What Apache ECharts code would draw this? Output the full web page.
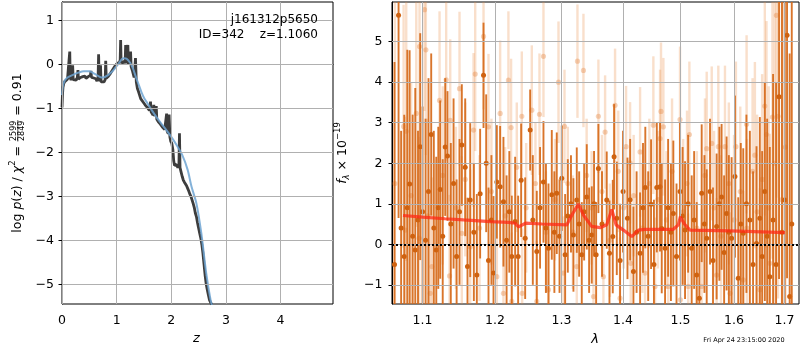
<!DOCTYPE html>
<html>
<head>
<meta charset="utf-8">
<script src="https://cdn.jsdelivr.net/npm/echarts@6/dist/echarts.min.js"></script>
<style>html,body{margin:0;padding:0;background:#fff}#c{width:800px;height:350px}</style>
</head>
<body>
<div id="c"></div>
<script>
// ---------- Left panel: p(z) ----------
const zGrid = [0.000,0.008,0.018,0.030,0.045,0.060,0.080,0.100,0.120,0.135,0.142,0.150,0.165,0.180,0.195,0.205,0.220,0.240,0.260,0.280,0.292,0.300,0.320,0.340,0.360,0.380,0.400,0.420,0.440,0.460,0.480,0.500,0.520,0.530,0.540,0.560,0.580,0.600,0.620,0.640,0.660,0.670,0.680,0.695,0.705,0.715,0.730,0.750,0.770,0.790,0.800,0.810,0.830,0.850,0.870,0.890,0.910,0.930,0.950,0.970,0.990,1.010,1.030,1.050,1.065,1.073,1.082,1.100,1.120,1.140,1.155,1.165,1.175,1.190,1.205,1.215,1.235,1.255,1.265,1.290,1.320,1.345,1.360,1.380,1.400,1.420,1.440,1.460,1.480,1.500,1.520,1.540,1.560,1.580,1.600,1.620,1.630,1.650,1.665,1.680,1.690,1.710,1.725,1.735,1.760,1.780,1.800,1.820,1.840,1.860,1.880,1.900,1.915,1.925,1.945,1.960,1.975,1.990,2.010,2.030,2.045,2.060,2.080,2.100,2.120,2.140,2.150,2.160,2.180,2.200,2.220,2.240,2.260,2.280,2.300,2.320,2.340,2.360,2.380,2.400,2.420,2.440,2.460,2.480,2.500,2.520,2.540,2.560,2.580,2.600,2.620,2.640,2.660,2.680,2.700,2.740];
const logPz = [-0.98,-0.70,-0.52,-0.45,-0.40,-0.38,-0.37,-0.34,-0.37,-0.33,0.29,-0.30,-0.36,-0.33,-0.02,-0.35,-0.38,-0.33,-0.36,-0.30,-0.13,-0.34,-0.36,-0.30,-0.32,-0.28,-0.30,-0.27,-0.32,-0.30,-0.28,-0.32,-0.25,-0.15,-0.30,-0.33,-0.31,-0.35,-0.33,-0.38,-0.32,0.23,-0.33,-0.38,-0.02,-0.40,-0.43,-0.38,-0.40,-0.35,0.08,-0.32,-0.30,-0.27,-0.24,-0.20,-0.16,-0.12,-0.08,-0.04,-0.02,0.02,0.05,0.04,0.10,0.55,0.05,0.06,0.03,0.08,0.02,0.44,0.02,0.05,0.44,0.00,0.03,0.29,-0.05,-0.15,-0.30,0.14,-0.40,-0.55,-0.62,-0.70,-0.78,-0.82,-0.85,-0.88,-0.92,-0.95,-0.98,-1.00,-1.05,-0.85,-1.08,-1.12,-1.15,-0.92,-1.18,-1.22,-0.95,-1.25,-1.30,-1.33,-1.36,-1.40,-1.43,-1.46,-1.48,-1.50,-1.12,-1.52,-1.58,-1.14,-1.65,-1.75,-1.80,-1.95,-2.20,-2.30,-2.33,-2.28,-2.35,-2.30,-1.57,-2.35,-2.45,-2.55,-2.63,-2.68,-2.72,-2.76,-2.82,-2.88,-2.95,-3.00,-3.08,-3.16,-3.25,-3.38,-3.46,-3.60,-3.72,-3.84,-3.95,-4.10,-4.30,-4.55,-4.80,-5.00,-5.13,-5.25,-5.36,-5.46];
const zFit = [0.000,0.020,0.050,0.100,0.200,0.300,0.400,0.500,0.600,0.700,0.750,0.850,0.950,1.050,1.120,1.180,1.250,1.300,1.350,1.400,1.450,1.500,1.550,1.600,1.700,1.800,1.900,2.000,2.100,2.200,2.300,2.370,2.460,2.550,2.640,2.720,2.760];
const logPzFit = [-0.70,-0.48,-0.37,-0.30,-0.24,-0.19,-0.16,-0.16,-0.22,-0.29,-0.30,-0.24,-0.12,0.04,0.14,0.13,0.03,-0.10,-0.28,-0.45,-0.62,-0.76,-0.86,-0.96,-1.15,-1.32,-1.48,-1.65,-1.84,-2.06,-2.40,-2.78,-3.16,-3.84,-4.75,-5.36,-5.55];
const leftXTicks = [0,1,2,3,4];
const leftYTicks = [-5,-4,-3,-2,-1,0,1];

// ---------- Right panel: spectrum ----------
const darkWave = [1.0635,1.0687,1.0720,1.0760,1.0800,1.0830,1.0870,1.0904,1.0940,1.0969,1.1000,1.1040,1.1079,1.1115,1.1150,1.1183,1.1210,1.1236,1.1270,1.1304,1.1335,1.1380,1.1418,1.1460,1.1500,1.1532,1.1579,1.1611,1.1649,1.1700,1.1742,1.1789,1.1837,1.1875,1.1908,1.1950,1.1980,1.2028,1.2076,1.2124,1.2170,1.2210,1.2246,1.2296,1.2340,1.2385,1.2445,1.2520,1.2560,1.2620,1.2670,1.2722,1.2760,1.2799,1.2850,1.2890,1.2927,1.2970,1.3005,1.3058,1.3100,1.3150,1.3189,1.3242,1.3280,1.3322,1.3360,1.3402,1.3440,1.3483,1.3520,1.3554,1.3591,1.3650,1.3728,1.3773,1.3828,1.3850,1.3895,1.3950,1.4000,1.4075,1.4120,1.4176,1.4230,1.4290,1.4340,1.4380,1.4430,1.4480,1.4530,1.4580,1.4637,1.4667,1.4726,1.4780,1.4830,1.4873,1.4930,1.4993,1.5040,1.5084,1.5140,1.5205,1.5250,1.5297,1.5346,1.5389,1.5440,1.5482,1.5544,1.5600,1.5668,1.5720,1.5762,1.5810,1.5857,1.5900,1.5953,1.6017,1.6081,1.6130,1.6178,1.6240,1.6307,1.6370,1.6438,1.6504,1.6550,1.6603,1.6650,1.6703,1.6769,1.6830,1.6890,1.6950,1.7005,1.7053,1.7107,1.7150];
const darkFlux = [-0.5,5.65,0.4,-0.3,0.9,1.49,0.2,-0.14,0.6,2.41,0.8,0.1,1.3,2.71,0.4,-0.14,0.9,1.35,0.2,2.4,2.18,0.5,1.5,-0.3,0.8,2.45,1.9,-0.55,1.09,0.3,-0.76,1.25,4.17,2.0,-0.4,0.6,-0.71,1.54,1.42,1.05,0.1,0.8,-0.3,0.56,-0.3,1.58,0.15,2.82,0.6,-0.18,0.9,1.54,0.4,-0.1,1.22,0.3,1.26,0.2,1.63,-0.26,0.7,1.0,0.23,1.09,0.5,-0.26,0.8,1.17,0.1,0.23,1.0,-0.26,1.87,0.5,1.09,-0.22,0.19,2.16,0.64,-0.4,1.3,0.64,1.1,-0.67,0.3,-0.22,0.9,1.4,0.2,0.99,-0.5,1.4,1.42,0.39,-0.1,0.9,0.3,0.76,-0.3,1.3,0.7,0.35,1.0,-0.1,0.6,-0.76,-1.33,1.26,0.5,0.15,1.3,-0.4,0.44,1.0,1.17,-0.2,0.76,0.3,0.15,1.67,-0.84,0.5,0.27,1.0,0.6,-0.5,0.02,0.64,-0.3,1.3,0.2,-0.8,0.6,-0.5,3.64,0.3,1.09,5.16,-1.29,0.5];
const darkErr = [5.0,5.0,2.4,3.5,3.9,3.3,3.0,4.0,2.2,2.8,2.6,3.0,2.8,2.0,2.4,2.3,2.0,2.2,1.9,1.7,1.6,2.0,2.1,1.9,1.8,1.5,1.7,1.7,1.9,1.7,2.0,1.6,1.3,1.7,1.8,1.6,1.9,1.4,1.5,1.6,1.6,1.5,1.5,1.6,1.5,1.4,1.5,1.0,1.6,1.5,1.5,1.5,1.6,1.6,1.6,1.5,1.5,1.4,1.3,1.5,1.4,1.2,1.4,1.3,1.3,1.3,1.2,1.3,1.3,1.2,1.3,1.3,1.1,1.3,1.2,1.3,1.4,1.3,1.4,1.4,1.5,1.5,1.5,1.6,1.5,1.5,1.6,1.5,1.6,1.6,1.6,1.6,1.6,1.6,1.7,1.7,1.7,1.8,1.8,1.7,1.7,1.7,1.7,1.8,1.7,1.8,1.7,1.7,1.7,1.7,1.8,1.8,1.8,1.9,1.8,1.9,1.9,1.9,2.0,2.0,2.0,2.0,2.1,2.2,2.2,2.3,2.4,2.5,2.6,2.7,2.9,3.2,3.6,4.5,4.5,6.0,6.0,6.0,6.0,6.0];
const lightWave = [1.0640,1.0752,1.0773,1.0786,1.0850,1.0917,1.0955,1.0960,1.1026,1.1044,1.1070,1.1102,1.1124,1.1227,1.1270,1.1317,1.1363,1.1372,1.1450,1.1500,1.1532,1.1580,1.1649,1.1696,1.1719,1.1780,1.1837,1.1908,1.1950,1.2028,1.2076,1.2124,1.2150,1.2197,1.2236,1.2246,1.2320,1.2395,1.2400,1.2460,1.2545,1.2600,1.2620,1.2661,1.2722,1.2760,1.2799,1.2900,1.2954,1.3032,1.3048,1.3100,1.3180,1.3242,1.3253,1.3349,1.3400,1.3480,1.3511,1.3591,1.3650,1.3673,1.3701,1.3780,1.3866,1.3920,1.3949,1.4010,1.4051,1.4119,1.4130,1.4180,1.4290,1.4330,1.4376,1.4450,1.4520,1.4549,1.4600,1.4637,1.4654,1.4696,1.4750,1.4783,1.4850,1.4993,1.5000,1.5050,1.5120,1.5142,1.5163,1.5300,1.5389,1.5450,1.5482,1.5576,1.5620,1.5668,1.5700,1.5750,1.5826,1.5900,1.5923,1.6000,1.6036,1.6120,1.6178,1.6243,1.6250,1.6360,1.6406,1.6450,1.6504,1.6550,1.6603,1.6636,1.6680,1.6703,1.6756,1.6800,1.6836,1.6870,1.6950,1.7020];
const lightFlux = [1.5,2.91,0.35,2.79,1.2,3.23,0.15,4.88,5.79,4.8,0.7,-1.21,-0.55,3.55,1.7,4.06,-0.78,3.06,0.9,3.84,0.27,1.6,-0.06,2.82,4.2,0.4,5.13,2.9,1.3,-0.8,3.23,-1.21,0.7,4.05,2.88,-1.41,1.9,3.16,-1.21,0.9,3.31,1.5,-1.41,3.21,4.64,0.3,-1.12,1.1,4.0,-0.71,2.91,1.5,0.3,-0.55,4.52,4.29,1.7,0.9,-1.29,3.16,1.3,-0.8,2.77,0.1,3.43,1.8,-1.33,0.9,2.41,2.01,-0.47,1.2,2.28,0.4,-0.71,1.5,2.94,-1.04,1.1,2.61,3.28,2.9,0.6,-1.04,1.8,3.08,-1.37,0.8,1.5,-1.04,2.71,0.4,-1.04,1.7,2.36,2.49,0.9,-0.76,2.41,0.2,2.41,1.5,-1.21,0.6,2.41,1.3,-0.88,2.96,0.4,1.8,2.2,0.8,-1.12,1.6,3.41,2.71,0.9,-0.47,3.14,2.0,5.65,3.16,1.1,2.4];
const lightErr = [4.5,3.0,2.8,3.2,2.8,2.8,2.5,2.8,2.5,2.6,2.4,2.2,2.2,2.2,2.2,2.0,2.0,2.0,2.0,1.9,1.9,1.9,1.9,1.9,1.9,1.8,1.8,1.8,1.8,1.8,1.8,1.7,1.7,1.7,1.7,1.7,1.6,1.6,1.6,1.6,1.6,1.5,1.5,1.5,1.5,1.5,1.5,1.5,1.5,1.4,1.4,1.4,1.4,1.4,1.4,1.4,1.4,1.4,1.4,1.4,1.4,1.4,1.4,1.4,1.4,1.5,1.5,1.5,1.5,1.5,1.5,1.5,1.6,1.6,1.6,1.6,1.7,1.7,1.7,1.7,1.7,1.7,1.7,1.8,1.8,1.8,1.8,1.8,1.8,1.8,1.8,1.9,1.9,1.9,1.9,1.9,1.9,1.9,2.0,2.0,2.0,2.0,2.0,2.1,2.1,2.1,2.2,2.2,2.2,2.3,2.3,2.4,2.5,2.6,2.7,2.8,3.0,3.2,3.5,4.0,4.5,4.5,5.0,5.0];
const modelWave = [1.0744,1.1000,1.1300,1.1556,1.1933,1.2200,1.2296,1.2346,1.2450,1.2700,1.3085,1.3178,1.3268,1.3349,1.3483,1.3619,1.3728,1.3812,1.3883,1.4006,1.4148,1.4261,1.4376,1.4696,1.4873,1.4963,1.5000,1.5072,1.5175,1.5923,1.7010];
const modelFlux = [0.71,0.67,0.63,0.60,0.56,0.54,0.52,0.43,0.52,0.50,0.48,0.76,0.99,0.72,0.44,0.41,0.48,0.86,0.48,0.35,0.19,0.35,0.37,0.37,0.37,0.48,0.68,0.50,0.35,0.33,0.29];
const rightXTicks = [1.1,1.2,1.3,1.4,1.5,1.6,1.7];
const rightYTicks = [-1,0,1,2,3,4,5];

// ---------- helpers ----------
const FONT = 'DejaVu Sans';
const minus = v => String(v).replace('-', '\u2212');
const cv = document.createElement('canvas').getContext('2d');
function tw(t, font) { cv.font = font; return cv.measureText(t).width; }

function rotatedLabel(cx, cy, pieces) {
  const items = [];
  let total = 0;
  pieces.forEach(p => {
    if (p.frac) {
      const f = `${p.size}px "${FONT}"`;
      const w = Math.max(tw(p.num, f), tw(p.den, f)) + 2;
      items.push({p, w}); total += w;
    } else {
      const f = `${p.italic ? 'italic ' : ''}${p.size}px "${FONT}"`;
      const w = tw(p.t, f);
      items.push({p, w, f}); total += w;
    }
  });
  let x = -total / 2;
  const children = [];
  items.forEach(it => {
    const p = it.p;
    if (p.frac) {
      const f = `${p.size}px "${FONT}"`;
      children.push({type: 'text', style: {text: p.num, x: x + it.w / 2, y: -4.2, font: f, fill: '#000', align: 'center', verticalAlign: 'middle'}});
      children.push({type: 'text', style: {text: p.den, x: x + it.w / 2, y: 4.0, font: f, fill: '#000', align: 'center', verticalAlign: 'middle'}});
      children.push({type: 'line', shape: {x1: x + 0.5, y1: -0.2, x2: x + it.w - 0.5, y2: -0.2}, style: {stroke: '#000', lineWidth: 0.7}});
    } else {
      children.push({type: 'text', style: {text: p.t, x: x, y: p.dy || 0, font: it.f, fill: '#000', align: 'left', verticalAlign: 'middle'}});
    }
    x += it.w;
  });
  return {type: 'group', x: cx, y: cy, rotation: Math.PI / 2, children, z: 100};
}

function errRender(barColor, dotColor, bw, r) {
  return function (params, api) {
    const x = api.value(0), y = api.value(1), e = api.value(2);
    const p1 = api.coord([x, y - e]);
    const p2 = api.coord([x, y + e]);
    const c = api.coord([x, y]);
    return {type: 'group', children: [
      {type: 'line', shape: {x1: p1[0], y1: p1[1], x2: p2[0], y2: p2[1]}, style: {stroke: barColor, lineWidth: bw}},
      {type: 'circle', shape: {cx: c[0], cy: c[1], r: r}, style: {fill: dotColor}}
    ]};
  };
}

const gridLine = {color: '#b0b0b0', width: 1, type: 'solid'};
const tickStyle = {show: true, inside: false, length: 3.5, lineStyle: {color: '#000', width: 1}};
const labelX = {color: '#000', fontFamily: FONT, fontSize: 12.5, margin: 10};
const labelYL = {color: '#000', fontFamily: FONT, fontSize: 12.5, margin: 8};
const labelYR = {color: '#000', fontFamily: FONT, fontSize: 12.5, margin: 9.5};

const chart = echarts.init(document.getElementById('c'), null, {renderer: 'canvas'});
const option = {
  animation: false,
  textStyle: {fontFamily: FONT},
  grid: [
    {left: 62, top: 2, width: 271, height: 302, show: true, borderColor: '#000', borderWidth: 1, backgroundColor: 'rgba(0,0,0,0)'},
    {left: 392, top: 2, width: 407, height: 302, show: true, borderColor: '#000', borderWidth: 1, backgroundColor: 'rgba(0,0,0,0)'}
  ],
  xAxis: [
    {type: 'value', gridIndex: 0, min: 0, max: 4.96,
     axisLine: {show: true, lineStyle: {color: '#000', width: 1}},
     axisTick: Object.assign({customValues: leftXTicks}, tickStyle),
     axisLabel: Object.assign({customValues: leftXTicks, formatter: v => minus(v)}, labelX),
     splitLine: {show: false}},
    {type: 'log', logBase: 10, gridIndex: 1, min: 1.0603, max: 1.730,
     axisLine: {show: true, lineStyle: {color: '#000', width: 1}},
     axisTick: Object.assign({customValues: rightXTicks}, tickStyle),
     axisLabel: Object.assign({customValues: rightXTicks, formatter: v => Number(v).toFixed(1)}, labelX),
     splitLine: {show: false}}
  ],
  yAxis: [
    {type: 'value', gridIndex: 0, min: -5.448, max: 1.416,
     axisLine: {show: true, lineStyle: {color: '#000', width: 1}},
     axisTick: Object.assign({customValues: leftYTicks}, tickStyle),
     axisLabel: Object.assign({customValues: leftYTicks, formatter: v => minus(v)}, labelYL),
     splitLine: {show: false}},
    {type: 'value', gridIndex: 1, min: -1.474, max: 5.98,
     axisLine: {show: true, lineStyle: {color: '#000', width: 1}},
     axisTick: Object.assign({customValues: rightYTicks}, tickStyle),
     axisLabel: Object.assign({customValues: rightYTicks, formatter: v => minus(v)}, labelYR),
     splitLine: {show: false}}
  ],
  series: [
    {type: 'line', xAxisIndex: 0, yAxisIndex: 0, data: [], z: 1, silent: true,
     markLine: {silent: true, symbol: 'none', label: {show: false}, lineStyle: gridLine, animation: false,
       data: leftXTicks.map(v => ({xAxis: v})).concat(leftYTicks.map(v => ({yAxis: v})))}},
    {type: 'line', xAxisIndex: 1, yAxisIndex: 1, data: [], z: 1, silent: true,
     markLine: {silent: true, symbol: 'none', label: {show: false}, lineStyle: gridLine, animation: false,
       data: rightXTicks.map(v => ({xAxis: v})).concat(rightYTicks.map(v => ({yAxis: v})))}},
    {type: 'line', name: 'pz', xAxisIndex: 0, yAxisIndex: 0, z: 3, showSymbol: false, clip: true,
     data: zGrid.map((z, i) => [z, logPz[i]]),
     lineStyle: {color: 'rgba(40,40,40,0.9)', width: 2.8}},
    {type: 'line', name: 'fit', xAxisIndex: 0, yAxisIndex: 0, z: 4, showSymbol: false, clip: true, smooth: 0.3,
     data: zFit.map((z, i) => [z, logPzFit[i]]),
     lineStyle: {color: 'rgba(110,165,210,0.85)', width: 2}},
    {type: 'custom', name: 'light', xAxisIndex: 1, yAxisIndex: 1, z: 2, clip: true,
     renderItem: errRender('rgba(232,140,70,0.28)', 'rgba(225,125,55,0.35)', 2.4, 2.6),
     data: lightWave.map((w, i) => [w, lightFlux[i], lightErr[i]])},
    {type: 'custom', name: 'dark', xAxisIndex: 1, yAxisIndex: 1, z: 3, clip: true,
     renderItem: errRender('rgba(214,105,25,0.92)', '#cf6210', 1.9, 2.5),
     data: darkWave.map((w, i) => [w, darkFlux[i], darkErr[i]])},
    {type: 'line', name: 'model', xAxisIndex: 1, yAxisIndex: 1, z: 5, showSymbol: false, clip: true,
     data: modelWave.map((w, i) => [w, modelFlux[i]]),
     lineStyle: {color: 'rgba(255,40,20,0.75)', width: 3.2}},
    {type: 'line', xAxisIndex: 1, yAxisIndex: 1, data: [], z: 6, silent: true,
     markLine: {silent: true, symbol: 'none', label: {show: false}, animation: false,
       lineStyle: {color: '#000', width: 2, type: [2, 2]},
       data: [{yAxis: 0}]}}
  ],
  graphic: [
    {type: 'text', z: 100, style: {text: 'j161312p5650', x: 318, y: 20, align: 'right', verticalAlign: 'middle', font: `12px "${FONT}"`, fill: '#000'}},
    {type: 'text', z: 100, style: {text: 'ID=342    z=1.1060', x: 318, y: 35, align: 'right', verticalAlign: 'middle', font: `12px "${FONT}"`, fill: '#000'}},
    {type: 'text', z: 100, style: {text: 'z', x: 196.5, y: 339, align: 'center', verticalAlign: 'middle', font: `italic 13px "${FONT}"`, fill: '#000'}},
    {type: 'text', z: 100, style: {text: 'λ', x: 595, y: 340, align: 'center', verticalAlign: 'middle', font: `italic 13px "${FONT}"`, fill: '#000'}},
    {type: 'text', z: 100, style: {text: 'Fri Apr 24 23:15:00 2020', x: 744, y: 340, align: 'center', verticalAlign: 'middle', font: `6.5px "${FONT}"`, fill: '#000'}},
    rotatedLabel(18, 153, [
      {t: 'log ', size: 12.5},
      {t: 'p', size: 12.5, italic: true},
      {t: '(', size: 12.5},
      {t: 'z', size: 12.5, italic: true},
      {t: ') / ', size: 12.5},
      {t: 'χ', size: 12.5, italic: true},
      {t: '2', size: 8.5, dy: -5},
      {t: ' = ', size: 12.5},
      {frac: true, num: '2599', den: '2849', size: 8},
      {t: ' = 0.91', size: 12.5}
    ]),
    rotatedLabel(343, 153, [
      {t: 'f', size: 12.5, italic: true},
      {t: 'λ', size: 8.5, italic: true, dy: 3.5},
      {t: ' × 10', size: 12.5},
      {t: '\u221219', size: 8.5, dy: -5}
    ])
  ]
};
chart.setOption(option);
</script>
</body>
</html>
